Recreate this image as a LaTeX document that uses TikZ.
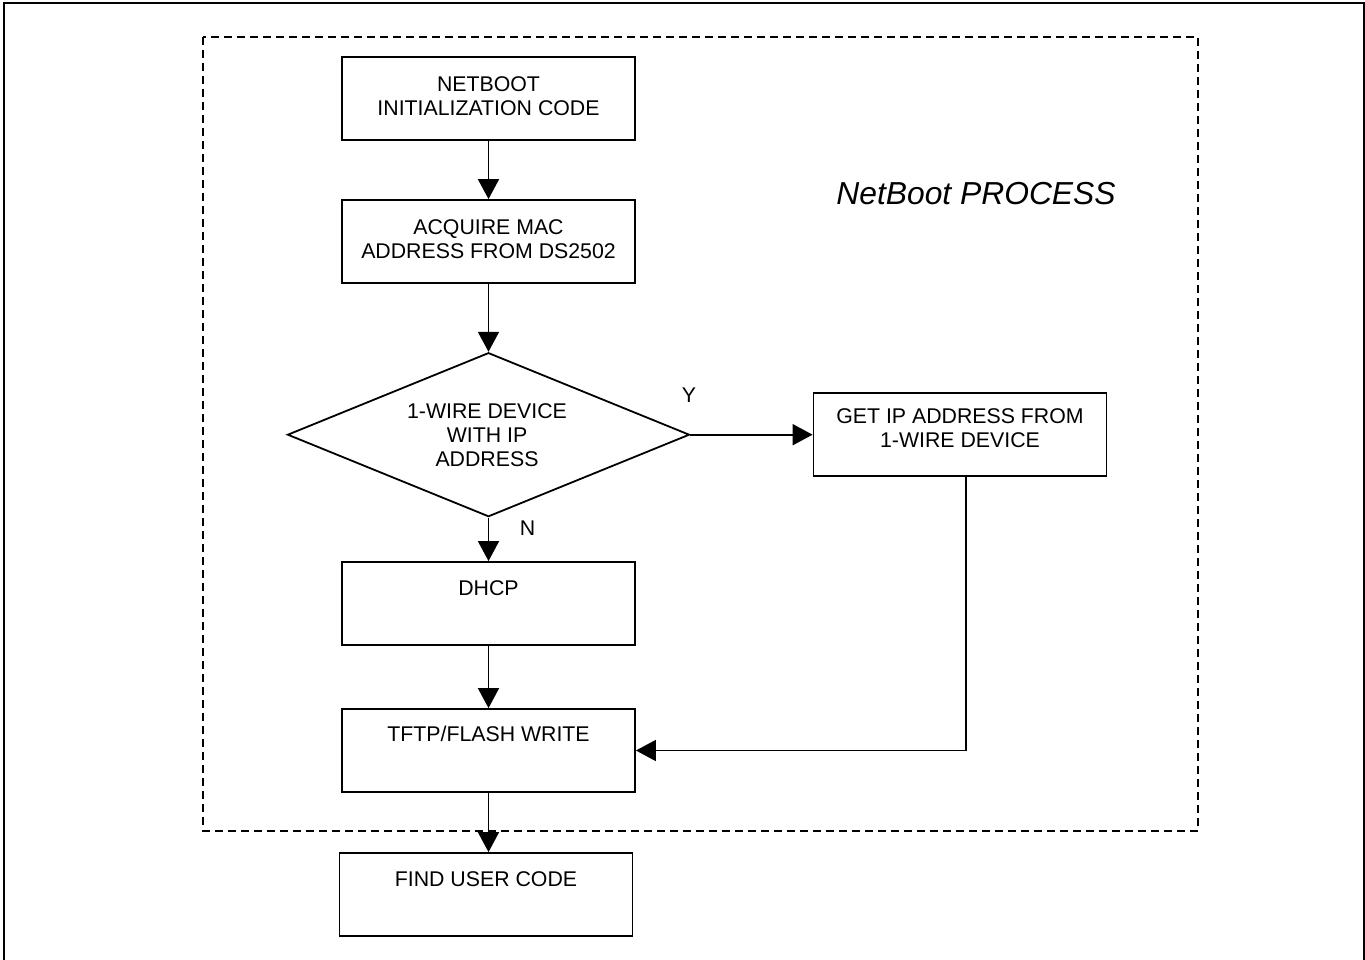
\documentclass[tikz,border=0pt]{standalone}
\usepackage{fontspec}
\setmainfont{Liberation Sans}
\usetikzlibrary{arrows.meta,shapes.geometric}
\begin{document}
\begin{tikzpicture}[x=1pt,y=-1pt,
  box/.style={draw, line width=1.8pt, minimum width=293pt, minimum height=83pt, inner sep=0pt},
  dia/.style={draw, diamond, line width=1.8pt, minimum width=402pt, minimum height=164pt, inner sep=0pt},
  txt/.style={anchor=north, inner sep=0pt, align=center, font=\fontsize{21.3}{24}\selectfont},
  ttl/.style={anchor=north, inner sep=0pt, font=\fontsize{31.8}{38}\selectfont\itshape},
  arr/.style={line width=1.8pt, -{Triangle[length=20pt,width=21pt]}},
  frame/.style={line width=1.8pt},
  group/.style={line width=1.8pt, dash pattern=on 8pt off 5pt}
  ]
\useasboundingbox (0,0) rectangle (1365,960);
\draw[frame] (4,975) -- (4,3) -- (1364,3) -- (1364,975);
\draw[group] (203,37) rectangle (1198,831);

\node[box] (b1) at (488.5,98.7) {};
\node[txt] (t1) at (488.5,76) {NETBOOT\\INITIALIZATION CODE};
\node[box] (b2) at (488.5,241.5) {};
\node[txt] (t2) at (488.5,219) {ACQUIRE MAC\\ADDRESS FROM DS2502};
\node[dia] (d) at (488.5,434.7) {};
\node[txt] (t3) at (487,403.3) {1-WIRE DEVICE\\WITH IP\\ADDRESS};
\node[box] (g) at (960,434.7) {};
\node[txt] (t4) at (960,408.3) {GET IP ADDRESS FROM\\1-WIRE DEVICE};
\node[box] (dh) at (488.5,603.5) {};
\node[txt] (t5) at (488.5,580) {DHCP};
\node[box] (tf) at (488.5,750.5) {};
\node[txt] (t6) at (488.5,725.7) {TFTP/FLASH WRITE};
\node[box] (fu) at (486,894.5) {};
\node[txt] (t7) at (486,871.5) {FIND USER CODE};

\node[txt] (y) at (689,388) {Y};
\node[txt] (n) at (527.5,520.7) {N};
\node[ttl] (title) at (976,181.7) {NetBoot PROCESS};

\draw[arr] (b1) -- (b2);
\draw[arr] (b2) -- (d);
\draw[arr] (d.east) -- (g.west);
\draw[arr] (d) -- (dh);
\draw[arr] (dh) -- (tf);
\draw[arr] (tf.south) -- (tf.south |- fu.north);
\draw[arr] ([xshift=6pt]g.south) |- (tf.east);
\end{tikzpicture}
\end{document}
